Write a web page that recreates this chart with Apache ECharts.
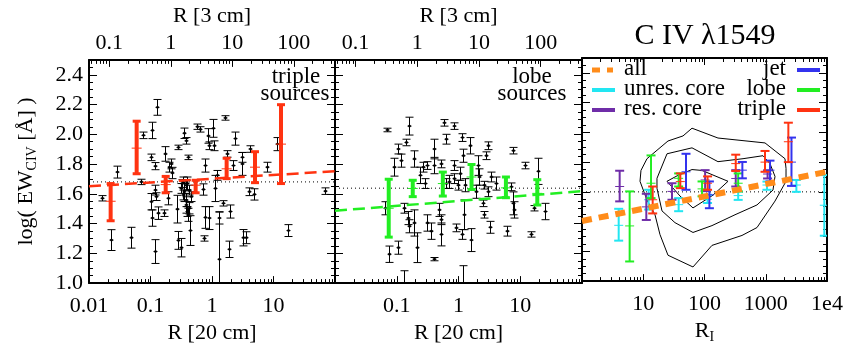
<!DOCTYPE html>
<html><head><meta charset="utf-8">
<script src="https://cdn.jsdelivr.net/npm/echarts@6/dist/echarts.min.js"></script>
<style>html,body{margin:0;padding:0;background:#fff}#c{width:849px;height:349px}</style>
</head><body><div id="c"></div><script>
// ---------- DATA (log10 values) ----------
// Panel 1: triple sources  [log R(20cm), log EW, err]
const p1Black = [
[-1.794,1.570,0.018],[-1.539,1.746,0.040],[-1.648,1.289,0.070],[-1.312,1.305,0.070],
[-1.160,1.680,0.018],[-0.981,2.026,0.055],[-0.889,2.181,0.053],[-1.117,1.993,0.022],
[-0.986,1.845,0.022],[-0.927,1.786,0.024],[-0.932,1.212,0.080],[-0.970,1.437,0.055],
[-0.873,1.470,0.042],[-0.780,1.470,0.022],[-0.932,1.625,0.033],[-0.916,1.581,0.026],
[-0.997,1.547,0.055],[-0.764,1.868,0.049],[-0.710,1.570,0.044],[-0.672,1.801,0.033],
[-0.645,1.740,0.038],[-0.699,1.779,0.033],[-0.547,1.912,0.015],[-0.455,2.007,0.035],
[-0.428,1.956,0.022],[-0.390,1.845,0.015],[-0.564,1.497,0.093],[-0.547,1.287,0.060],
[-0.499,1.238,0.062],[-0.455,1.614,0.066],[-0.417,1.558,0.044],[-0.374,1.503,0.038],
[-0.358,1.353,0.100],[-0.249,2.051,0.018],[-0.201,2.033,0.018],[-0.114,1.790,0.044],
[-0.141,1.629,0.038],[-0.114,1.441,0.073],[-0.130,1.300,0.018],[-0.065,1.989,0.049],
[-0.049,1.923,0.026],[-0.049,1.437,0.077],[-0.493,1.669,0.026],[-0.428,1.658,0.033],
[-0.466,1.592,0.033],[-0.374,1.625,0.033],[-0.401,1.481,0.033],[-0.509,1.636,0.033],
[-0.466,1.691,0.022],[-0.401,1.669,0.044],[-0.347,1.581,0.033],[-0.417,1.525,0.055],
[-0.385,1.459,0.044],
[0.211,2.110,0.015],[0.022,2.040,0.060],[0.033,1.923,0.033],[0.374,1.971,0.044],
[0.238,1.868,0.022],[0.347,1.790,0.033],[0.482,1.845,0.033],[0.482,1.801,0.077],
[0.618,1.901,0.022],[0.890,1.779,0.033],[1.053,1.934,0.044],[0.076,1.724,0.033],
[0.049,1.636,0.088],[0.184,1.536,0.018],[0.293,1.481,0.044],[0.114,1.160,0.320],
[0.119,1.437,0.040],[0.276,1.227,0.055],[0.509,1.305,0.055],[0.547,1.305,0.040],
[0.607,1.614,0.026],[0.689,1.596,0.038],[1.231,1.353,0.040],[1.837,1.618,0.022]
];
// binned means [log R, mid, low, high]
const p1Red = [
[-1.648,1.550,1.419,1.669],[-1.225,1.907,1.735,2.088],[-0.753,1.662,1.607,1.717],
[-0.266,1.658,1.607,1.691],[0.238,1.768,1.702,1.839],[0.699,1.779,1.675,1.883],
[1.122,1.934,1.669,2.199]
];
const p1Fit = [[-2,1.651],[2,1.752]];
const p1Mean = 1.68;

// Panel 2: lobe sources
const p2Black = [
[-1.162,2.029,0.012],[-0.800,2.055,0.060],[-0.984,1.901,0.033],[-0.930,1.823,0.044],
[-1.049,1.779,0.060],[-0.854,1.945,0.022],[-0.719,1.834,0.055],[-0.568,1.779,0.033],
[-0.503,1.790,0.026],[-0.622,1.724,0.055],[-0.541,1.669,0.033],[-0.395,1.901,0.066],
[-0.389,1.790,0.055],[-0.227,2.077,0.022],[-0.200,1.967,0.033],[-0.065,2.055,0.022],
[-0.286,1.801,0.026],[-0.070,1.790,0.033],[-0.065,1.702,0.033],[-0.011,1.658,0.033],
[-1.184,1.503,0.044],[-1.119,1.194,0.055],[-0.984,1.238,0.044],[-0.876,1.503,0.033],
[-0.822,1.437,0.044],[-0.795,1.382,0.044],[-0.719,1.404,0.088],[-0.676,1.238,0.100],
[-0.876,0.990,0.093],[-0.503,1.404,0.055],[-0.449,1.349,0.055],[-0.395,1.161,0.011],
[-0.314,1.492,0.044],[-0.286,1.426,0.033],[-0.286,1.327,0.077],[-0.043,1.371,0.026],
[-0.151,1.680,0.044],[-0.200,1.669,0.033],[0.049,1.978,0.026],[0.184,1.923,0.055],
[0.076,1.856,0.044],[0.022,1.735,0.044],[0.103,1.658,0.044],[0.092,1.459,0.100],
[0.049,1.327,0.033],[0.200,1.289,0.077],[0.070,0.990,0.127],[0.308,1.790,0.066],
[0.335,1.713,0.055],[0.281,1.614,0.044],[0.416,1.658,0.026],[0.400,1.536,0.022],
[0.470,1.923,0.026],[0.443,1.856,0.026],[0.524,1.713,0.033],[0.470,1.614,0.033],
[0.416,1.459,0.022],[0.508,1.375,0.040],[0.876,1.890,0.022],[0.849,1.647,0.026],
[0.876,1.536,0.077],[0.892,1.492,0.055],[0.778,1.349,0.033],[1.076,1.790,0.022],
[1.292,1.751,0.088],[1.227,1.503,0.018],[1.400,1.481,0.055],[1.168,1.327,0.018],
[0.600,1.669,0.044]
];
const p2Green = [
[-1.130,1.503,1.309,1.698],[-0.741,1.636,1.581,1.691],[-0.254,1.669,1.585,1.746],
[0.211,1.713,1.629,1.797],[0.768,1.640,1.574,1.713],[1.276,1.603,1.525,1.695]
];
const p2Fit = [[-2,1.486],[2,1.618]];
const p2Mean = 1.638;

// Panel 3: C IV vs R_I   [log R_I, mid, low, high]
const p3Unres = [
[0.599,1.375,1.272,1.486],[1.088,1.547,1.481,1.614],[1.578,1.514,1.470,1.558],
[2.050,1.550,1.525,1.580],[2.550,1.575,1.546,1.603],[3.020,1.646,1.614,1.669],
[3.500,1.646,1.600,1.680],[3.956,1.510,1.305,1.713]
];
const p3Res = [
[0.615,1.636,1.536,1.742],[1.050,1.499,1.411,1.587],[1.469,1.603,1.547,1.658],
[2.010,1.680,1.605,1.746],[2.510,1.690,1.636,1.746],[3.030,1.720,1.690,1.745]
];
const p3Jet = [
[1.698,1.735,1.614,1.856],[2.080,1.580,1.490,1.670],[2.618,1.746,1.691,1.801],
[3.069,1.746,1.670,1.810],[3.420,1.800,1.640,1.965]
];
const p3Lobe = [
[0.778,1.371,1.132,1.603],[1.127,1.658,1.558,1.845],[1.578,1.691,1.636,1.724],
[1.960,1.620,1.570,1.670],[2.550,1.658,1.603,1.724]
];
const p3Triple = [
[1.154,1.547,1.455,1.636],[1.605,1.669,1.625,1.724],[2.050,1.658,1.614,1.704],
[2.510,1.790,1.740,1.850],[2.988,1.800,1.735,1.875],[3.369,1.937,1.800,2.065]
];
const p3Fit = [[0,1.404],[4,1.735]];
const p3Mean = 1.60;
const contourOuter = [
[0.947,1.671],[1.061,1.545],[1.192,1.446],[1.273,1.313],[1.404,1.174],[1.812,1.095],
[2.122,1.240],[2.612,1.307],[2.857,1.360],[3.151,1.538],[3.331,1.671],[3.331,1.757],
[3.314,1.823],[2.988,1.929],[2.220,1.962],[1.796,2.028],[1.649,1.976],[1.404,1.942],
[1.061,1.823],[0.963,1.744],[0.947,1.671]
];
const contourMiddle = [
[1.224,1.691],[1.388,1.856],[1.796,1.896],[2.220,1.803],[2.629,1.823],[2.955,1.843],
[3.069,1.790],[3.151,1.704],[3.118,1.612],[2.857,1.512],[2.498,1.446],[2.122,1.373],
[1.812,1.327],[1.518,1.393],[1.306,1.472],[1.224,1.624],[1.224,1.691]
];
const contourInner = [
[1.388,1.671],[1.567,1.711],[1.796,1.750],[1.959,1.744],[2.384,1.671],[2.139,1.578],
[1.812,1.492],[1.600,1.572],[1.388,1.671]
];

// tick labels
const decadeText = {'-2':'0.01','-1':'0.1','0':'1','1':'10','2':'100','3':'1000','4':'1e4'};
const p1BottomLabels = [-2,-1,0,1];
const p2BottomLabels = [-1,0,1];
const p3BottomLabels = [1,2,3,4];
const topLabels = [-1,0,1,2];
const topShift = 0.67; // log R(3cm) - log R(20cm)

// ---------- STYLE ----------
const FONT = 'Liberation Serif';
const RED = '#ff3311', GREEN = '#22ee22', BLUE = '#3333ee', CYAN = '#22e6f2',
      PURPLE = '#6f2da8', ORANGE = '#ff8c1a';
const YMIN = 1.0, YMAX = 2.5;

function fmt(allowed){
  return function(v){
    const r = Math.round(v);
    if (Math.abs(v - r) > 1e-6 || allowed.indexOf(r) < 0) return '';
    return decadeText[String(r)];
  };
}
const lbl = {fontFamily: FONT, fontSize: 22, color: '#000'};
const richName = {a: {fontFamily: FONT, fontSize: 22, lineHeight: 26},
                  s: {fontFamily: FONT, fontSize: 14, lineHeight: 12, verticalAlign: 'bottom'}};

const grids = [
  {left: 89, top: 58, width: 246, height: 227},
  {left: 335, top: 58, width: 247, height: 227},
  {left: 582, top: 58, width: 245, height: 227}
];

const xAxes = [], yAxes = [];
function addX(g, pos, min, max, labels, name, nameGap, labelMargin, auto){
  const ax = {
    type: 'value', gridIndex: g, position: pos, min: min, max: max,
    axisLine: {show: true, onZero: false, lineStyle: {color: '#000', width: 2}},
    axisTick: {show: true, inside: true, length: 7, lineStyle: {color: '#000', width: 1}},
    axisLabel: Object.assign({show: labels !== null, interval: 0, margin: labelMargin,
                 formatter: fmt(labels || [])}, lbl),
    splitLine: {show: false}
  };
  if (auto) { ax.splitNumber = 4; ax.minInterval = 1; ax.maxInterval = 1; }
  else { ax.interval = 1; }
  if (name) {
    ax.name = name; ax.nameLocation = 'middle'; ax.nameGap = nameGap;
    ax.nameTextStyle = {fontFamily: FONT, fontSize: 22, color: '#000', rich: richName};
  }
  xAxes.push(ax);
  return xAxes.length - 1;
}
function addY(g, pos, minor, labels, name){
  const ax = {
    type: 'value', gridIndex: g, position: pos, min: YMIN, max: YMAX,
    interval: minor ? 0.05 : 0.2,
    axisLine: {show: !minor, onZero: false, lineStyle: {color: '#000', width: 2}},
    axisTick: {show: true, inside: true, length: minor ? 4 : 8, lineStyle: {color: '#000', width: 1}},
    axisLabel: Object.assign({show: labels, margin: 6,
      formatter: v => (v > 2.45 ? '' : v.toFixed(1))}, lbl),
    splitLine: {show: false}
  };
  if (name) {
    ax.name = name; ax.nameLocation = 'middle'; ax.nameGap = 50; ax.nameRotate = 90;
    ax.nameTextStyle = {fontFamily: FONT, fontSize: 22, color: '#000', rich: richName};
  }
  yAxes.push(ax);
  return yAxes.length - 1;
}

// panel axes
const P = [];
for (let g = 0; g < 3; g++) {
  const o = {};
  if (g < 2) {
    o.xb = addX(g, 'bottom', -2, 2, g === 0 ? p1BottomLabels : p2BottomLabels, 'R [20 cm]', 35, 12, false);
    o.xt = addX(g, 'top', -2 + topShift, 2 + topShift, topLabels, 'R [3 cm]', 29, 6, true);
  } else {
    o.xb = addX(g, 'bottom', 0, 4, p3BottomLabels, '{a|R}{s|I}', 33, 12, false);
    o.xt = addX(g, 'top', 0, 4, null, null, 0, 6, false);
  }
  o.yl = addY(g, 'left', false, g === 0, g === 0 ? '{a|log( EW}{s|CIV}{a| [Å] )}' : null);
  addY(g, 'left', true, false, null);
  addY(g, 'right', false, false, null);
  addY(g, 'right', true, false, null);
  P.push(o);
}

// log minor tick positions (axis decoration)
function minorVals(min, max){
  const out = [];
  for (let d = Math.floor(min) - 1; d <= Math.ceil(max); d++)
    for (let k = 2; k <= 9; k++) {
      const v = d + Math.log10(k);
      if (v > min + 1e-6 && v < max - 1e-6) out.push([v, YMIN]);
    }
  return out;
}
function minorSeries(xi, yi, vals, side){
  return {
    type: 'custom', xAxisIndex: xi, yAxisIndex: yi, silent: true, clip: false, z: 5,
    data: vals,
    renderItem: function(params, api){
      const x = Math.round(api.coord([api.value(0), YMIN])[0]) + 0.5;
      const y = side === 'bottom' ? api.coord([api.value(0), YMIN])[1] : api.coord([api.value(0), YMAX])[1];
      const dir = side === 'bottom' ? -1 : 1;
      return {type: 'line', shape: {x1: x, y1: y, x2: x, y2: y + dir * 4},
              style: {stroke: '#000', lineWidth: 1}};
    }
  };
}

function renderBlack(params, api){
  const x = api.value(0), y = api.value(1), e = api.value(2);
  const p = api.coord([x, y]), t = api.coord([x, y + e]), b = api.coord([x, y - e]);
  const cx = Math.round(p[0]) + 0.5;
  const s = {stroke: '#000', lineWidth: 1};
  return {type: 'group', children: [
    {type: 'line', shape: {x1: cx, y1: t[1], x2: cx, y2: b[1]}, style: s},
    {type: 'line', shape: {x1: cx - 4, y1: t[1], x2: cx + 4, y2: t[1]}, style: s},
    {type: 'line', shape: {x1: cx - 4, y1: b[1], x2: cx + 4, y2: b[1]}, style: s},
    {type: 'line', shape: {x1: cx - 2, y1: p[1], x2: cx + 2, y2: p[1]}, style: s},
    {type: 'circle', shape: {cx: cx, cy: p[1], r: 1.4}, style: {fill: '#000'}}
  ]};
}
function makeBar(color, lw, capHalf, capW, midHalf){
  return function(params, api){
    const x = api.value(0), m = api.value(1), lo = api.value(2), hi = api.value(3);
    const pm = api.coord([x, m]), pl = api.coord([x, lo]), ph = api.coord([x, hi]);
    const cx = pm[0];
    return {type: 'group', children: [
      {type: 'line', shape: {x1: cx, y1: ph[1], x2: cx, y2: pl[1]}, style: {stroke: color, lineWidth: lw}},
      {type: 'line', shape: {x1: cx - capHalf, y1: ph[1], x2: cx + capHalf, y2: ph[1]}, style: {stroke: color, lineWidth: capW}},
      {type: 'line', shape: {x1: cx - capHalf, y1: pl[1], x2: cx + capHalf, y2: pl[1]}, style: {stroke: color, lineWidth: capW}},
      {type: 'line', shape: {x1: cx - midHalf, y1: pm[1], x2: cx + midHalf, y2: pm[1]}, style: {stroke: color, lineWidth: 1}}
    ]};
  };
}

function lineSeries(g, data, color, width, type, z){
  return {type: 'line', xAxisIndex: P[g].xb, yAxisIndex: P[g].yl, data: data,
    showSymbol: false, symbol: 'none', silent: true, z: z || 3, animation: false,
    lineStyle: {color: color, width: width, type: type}};
}
function customSeries(g, data, render, z){
  return {type: 'custom', xAxisIndex: P[g].xb, yAxisIndex: P[g].yl, data: data,
    renderItem: render, clip: true, silent: true, z: z || 4, encode: {x: 0, y: 1}};
}

const series = [];
// minor ticks
for (let g = 0; g < 3; g++) {
  const xb = xAxes[P[g].xb], xt = xAxes[P[g].xt];
  series.push(minorSeries(P[g].xb, P[g].yl, minorVals(xb.min, xb.max), 'bottom'));
  series.push(minorSeries(P[g].xt, P[g].yl, minorVals(xt.min, xt.max), 'top'));
}
// panel 1
series.push(lineSeries(0, [[-2, p1Mean], [2, p1Mean]], '#000', 1, [1, 3], 2));
series.push(customSeries(0, p1Black, renderBlack, 4));
series.push(lineSeries(0, p1Fit, RED, 2.5, [12, 6], 5));
series.push(customSeries(0, p1Red, makeBar(RED, 4, 4, 3, 5), 6));
// panel 2
series.push(lineSeries(1, [[-2, p2Mean], [2, p2Mean]], '#000', 1, [1, 3], 2));
series.push(customSeries(1, p2Black, renderBlack, 4));
series.push(lineSeries(1, p2Fit, GREEN, 2.5, [12, 6], 5));
series.push(customSeries(1, p2Green, makeBar(GREEN, 4, 4, 3, 5), 6));
// panel 3
series.push(lineSeries(2, [[0, p3Mean], [4, p3Mean]], '#000', 1, [1, 3], 2));
series.push(lineSeries(2, contourOuter, '#000', 1, 'solid', 2));
series.push(lineSeries(2, contourMiddle, '#000', 1, 'solid', 2));
series.push(lineSeries(2, contourInner, '#000', 1, 'solid', 2));
series.push(customSeries(2, p3Unres, makeBar(CYAN, 2, 4.5, 2, 4.5), 4));
series.push(customSeries(2, p3Res, makeBar(PURPLE, 2, 4.5, 2, 4.5), 4));
series.push(customSeries(2, p3Lobe, makeBar(GREEN, 2, 4.5, 2, 4.5), 4));
series.push(customSeries(2, p3Jet, makeBar(BLUE, 2, 4.5, 2, 4.5), 4));
series.push(customSeries(2, p3Triple, makeBar(RED, 2, 4.5, 2, 4.5), 4));
series.push(lineSeries(2, p3Fit, ORANGE, 6, [10, 7], 7));

// legend + labels
function txt(t, x, y, size, align){
  return {type: 'text', x: x, y: y, z: 20, style: {text: t, fontFamily: FONT, fontSize: size,
    fill: '#000', textAlign: align || 'center', textVerticalAlign: 'middle'}};
}
function seg(x1, x2, y, color, w){
  return {type: 'line', z: 20, shape: {x1: x1, y1: y, x2: x2, y2: y}, style: {stroke: color, lineWidth: w}};
}
const graphic = [
  txt('C IV λ1549', 705, 36, 30),
  txt('triple', 296, 77, 23), txt('sources', 295, 94, 23),
  txt('lobe', 532, 77, 23), txt('sources', 532, 94, 23),
  seg(592, 600, 70, ORANGE, 5), seg(607, 613, 70, ORANGE, 5),
  seg(592, 615, 90, CYAN, 4), seg(592, 615, 110, PURPLE, 4),
  txt('all', 624, 69, 23, 'left'), txt('unres. core', 624, 89, 23, 'left'), txt('res. core', 624, 109, 23, 'left'),
  txt('jet', 786, 69, 23, 'right'), txt('lobe', 786, 89, 23, 'right'), txt('triple', 786, 109, 23, 'right'),
  seg(797, 820, 70, BLUE, 4), seg(797, 820, 90, GREEN, 4), seg(797, 820, 110, RED, 4)
];

const chart = echarts.init(document.getElementById('c'), null, {renderer: 'canvas'});
chart.setOption({
  animation: false,
  backgroundColor: '#fff',
  grid: grids,
  xAxis: xAxes,
  yAxis: yAxes,
  series: series,
  graphic: graphic
});
</script></body></html>
